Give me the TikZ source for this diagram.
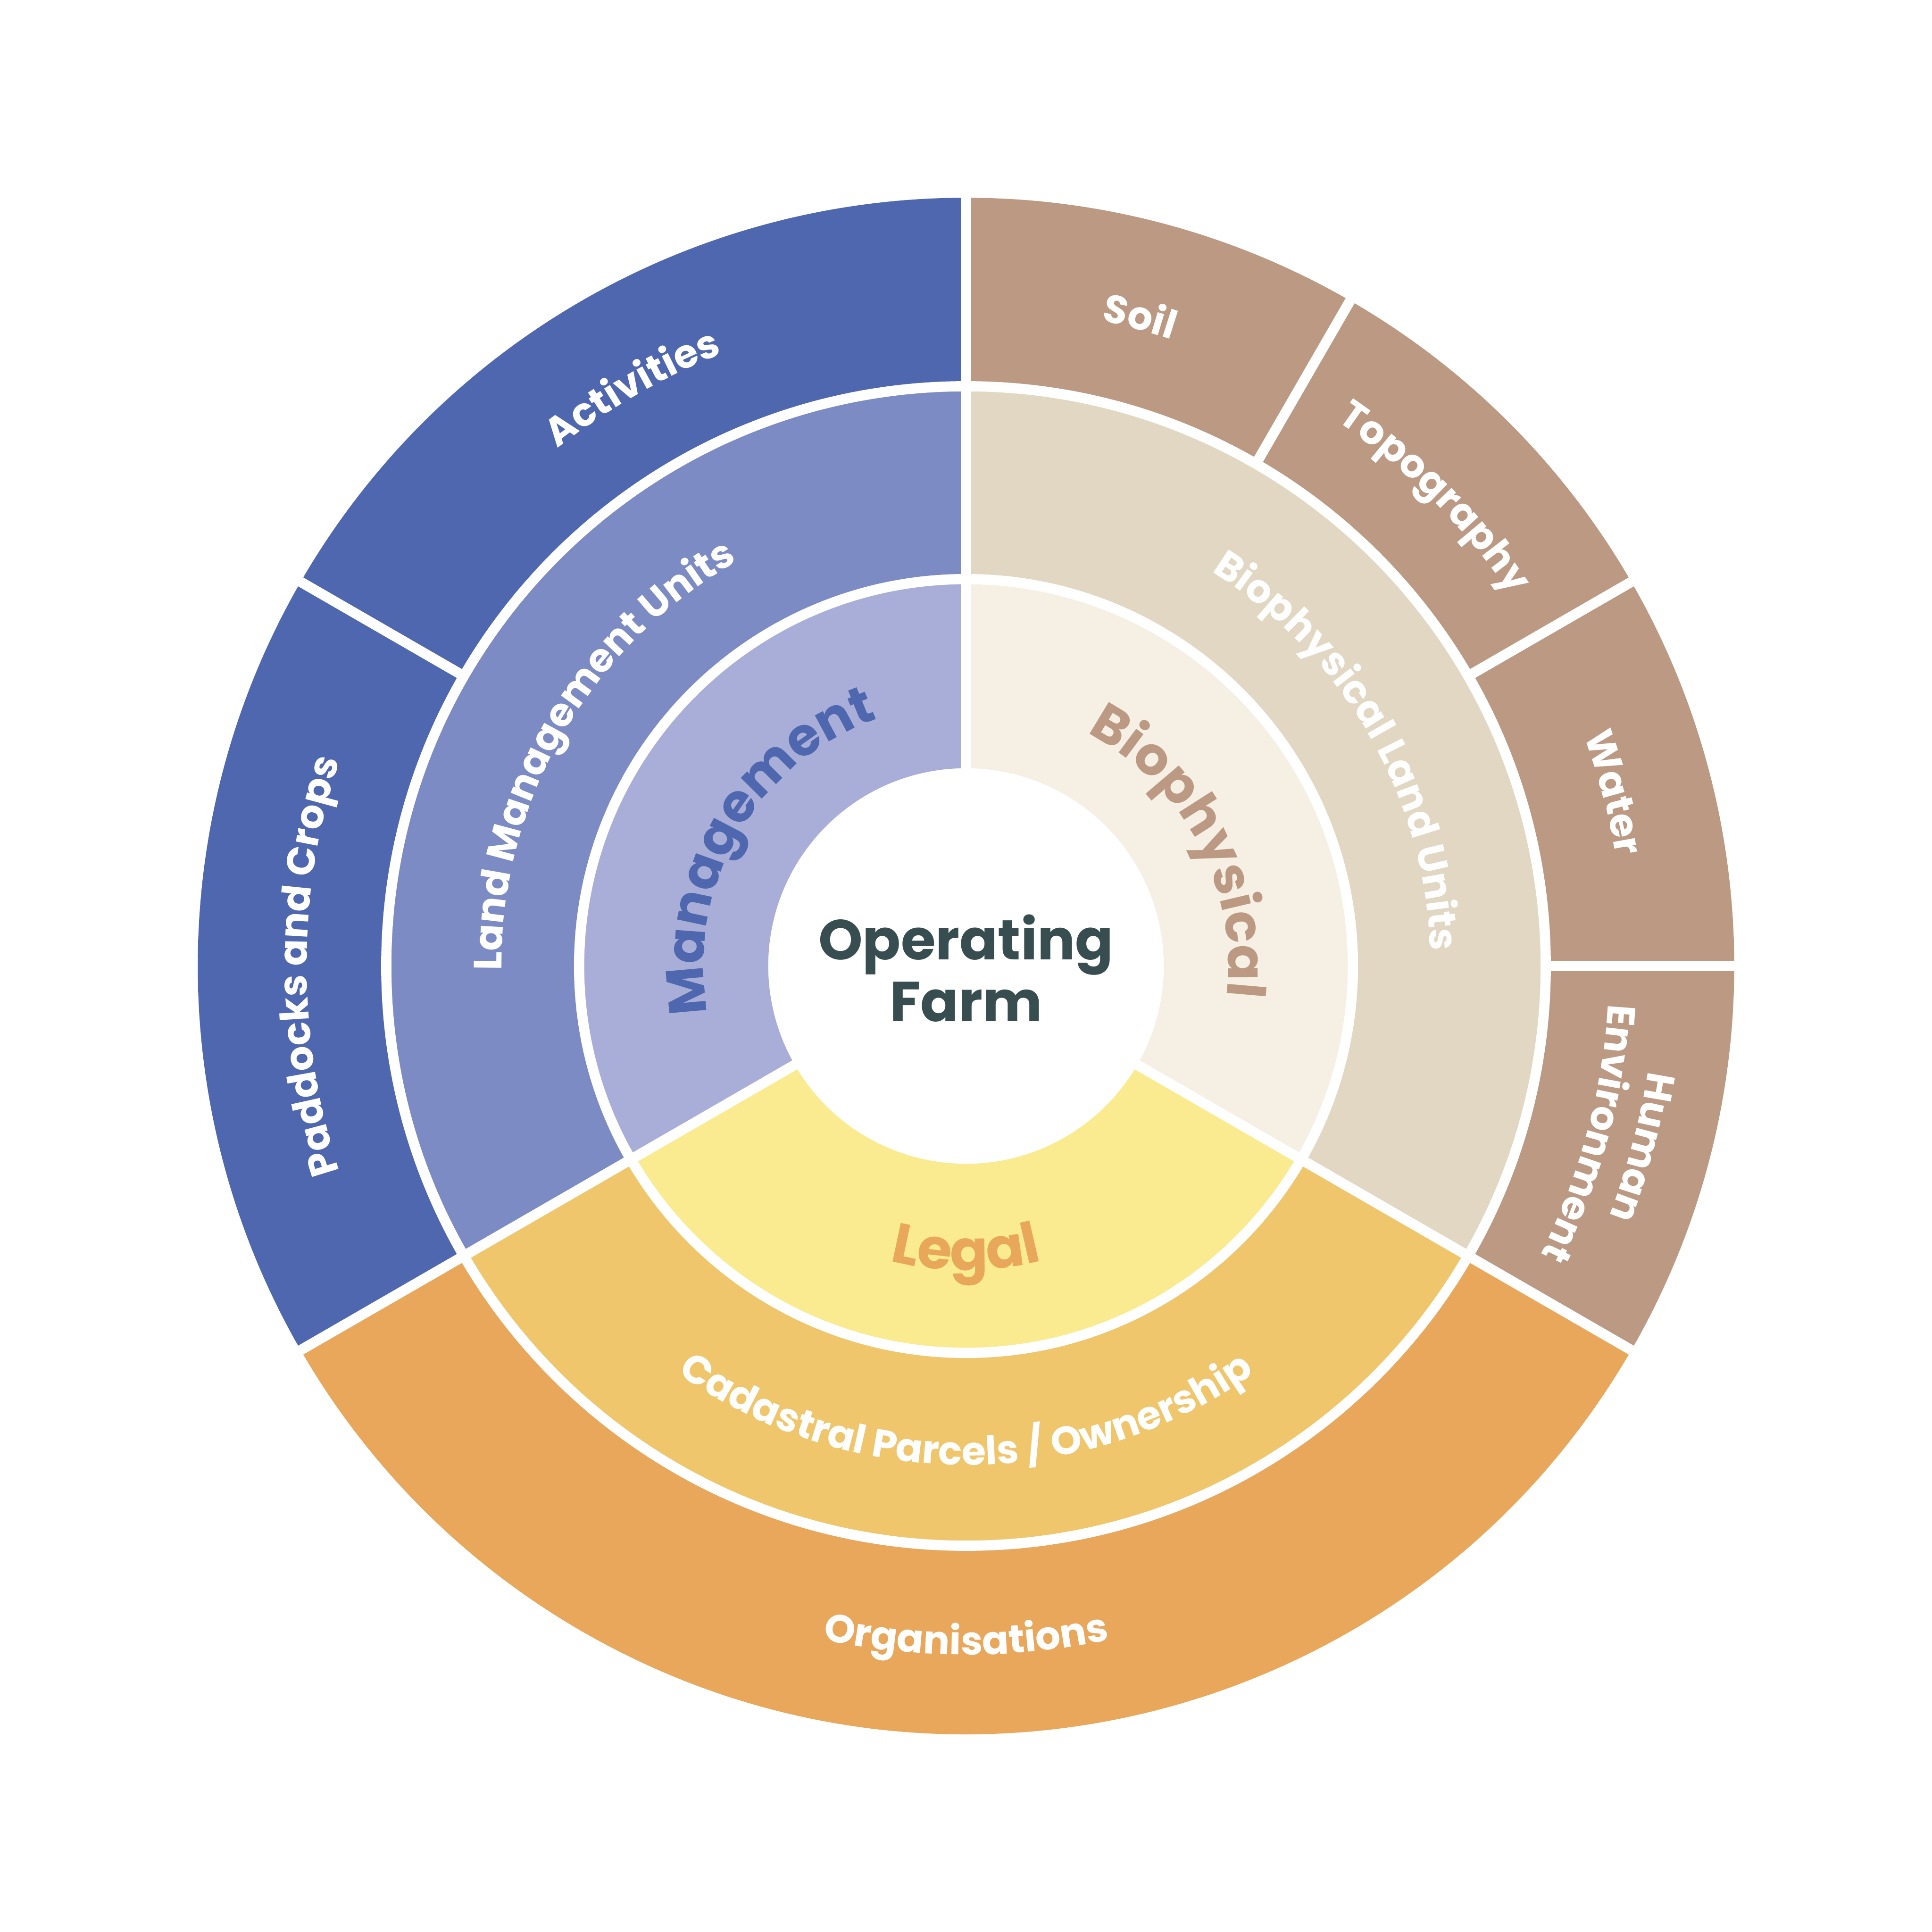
\documentclass[tikz,border=0pt]{standalone}
\usepackage{fontspec}
\setmainfont{Poppins}
\usepackage{tikz}
\usetikzlibrary{decorations.text}
\definecolor{mgmtouter}{HTML}{4E67AE}
\definecolor{mgmtmid}{HTML}{7C8BC4}
\definecolor{mgmtinner}{HTML}{A9AED9}
\definecolor{bioouter}{HTML}{BC9983}
\definecolor{biomid}{HTML}{E1D7C2}
\definecolor{bioinner}{HTML}{F6F0E4}
\definecolor{legalouter}{HTML}{E8A75B}
\definecolor{legalmid}{HTML}{F0C66C}
\definecolor{legalinner}{HTML}{FAEB91}
\definecolor{farmdark}{HTML}{374D4F}
\newcommand{\corefont}{\fontsize{13}{14.5}\selectfont\bfseries}
\newcommand{\sectorfont}{\fontsize{12.2}{14}\selectfont\bfseries}
\newcommand{\ringfont}{\fontsize{9.1}{11}\selectfont\bfseries\color{white}}
% one coloured piece of a ring: colour, inner r, outer r, from, to
\newcommand{\ringpart}[5]{%
  \fill[#1] (#4:#2) arc[start angle=#4,end angle=#5,radius=#2]
    -- (#5:#3) arc[start angle=#5,end angle=#4,radius=#3] -- cycle;}
% text on an arc: font, radius, from, to, text
\newcommand{\arclabel}[5]{%
  \path[decorate,decoration={text along path,text align=center,text={|#1|#5}}]
    (#3:#2) arc[start angle=#3,end angle=#4,radius=#2];}
\tikzset{
  gapline/.style={draw=white,line width=0.083cm},
  farmtext/.style={font=\corefont,text=farmdark,inner sep=0pt,anchor=base},
}

\begin{document}
\begin{tikzpicture}
  \useasboundingbox (-7.84,-7.84) rectangle (7.84,7.84);

  % Inner ring
  \ringpart{mgmtinner}{1.605}{3.14}{90}{210}
  \ringpart{bioinner}{1.605}{3.14}{-30}{90}
  \ringpart{legalinner}{1.605}{3.14}{210}{330}

  % Middle ring
  \ringpart{mgmtmid}{3.14}{4.705}{90}{210}
  \ringpart{biomid}{3.14}{4.705}{-30}{90}
  \ringpart{legalmid}{3.14}{4.705}{210}{330}

  % Outer ring
  \ringpart{mgmtouter}{4.705}{6.235}{90}{150}
  \ringpart{mgmtouter}{4.705}{6.235}{150}{210}
  \ringpart{legalouter}{4.705}{6.235}{210}{330}
  \ringpart{bioouter}{4.705}{6.235}{60}{90}
  \ringpart{bioouter}{4.705}{6.235}{30}{60}
  \ringpart{bioouter}{4.705}{6.235}{0}{30}
  \ringpart{bioouter}{4.705}{6.235}{-30}{0}

  % White gaps
  \draw[gapline] (0,0) circle[radius=3.14];
  \draw[gapline] (0,0) circle[radius=4.705];
  \foreach \a in {90,210,330}
    \draw[gapline] (\a:1.5) -- (\a:6.3);
  \foreach \a in {150,60,30,0}
    \draw[gapline] (\a:4.705) -- (\a:6.3);

  % Centre
  \node[farmtext] (op) at (0,0.05) {Operating};
  \node[farmtext] (farm) at (0,-0.45) {Farm};

  % Inner labels
  \arclabel{\sectorfont\color{mgmtouter}}{2.13}{205}{95}{Management}
  \arclabel{\sectorfont\color{bioouter}}{2.13}{83}{-27}{Biophysical}
  \arclabel{\corefont\color{legalouter}}{2.47}{220}{320}{Legal}

  % Middle labels
  \arclabel{\ringfont}{3.77}{205}{95}{Land Management Units}
  \arclabel{\ringfont}{3.77}{85}{-25}{Biophysical Land Units}
  \arclabel{\ringfont}{4.05}{215}{325}{Cadastral Parcels / Ownership}

  % Outer labels
  \arclabel{\ringfont}{5.35}{145}{95}{Activities}
  \arclabel{\ringfont}{5.35}{205}{155}{Paddocks and Crops}
  \arclabel{\ringfont}{5.35}{100}{50}{Soil}
  \arclabel{\ringfont}{5.35}{70}{20}{Topography}
  \arclabel{\ringfont}{5.35}{40}{-10}{Water}
  \arclabel{\ringfont}{5.60}{10}{-40}{Human}
  \arclabel{\ringfont}{5.22}{10}{-40}{Environment}
  \arclabel{\ringfont}{5.59}{240}{300}{Organisations}
\end{tikzpicture}
\end{document}
